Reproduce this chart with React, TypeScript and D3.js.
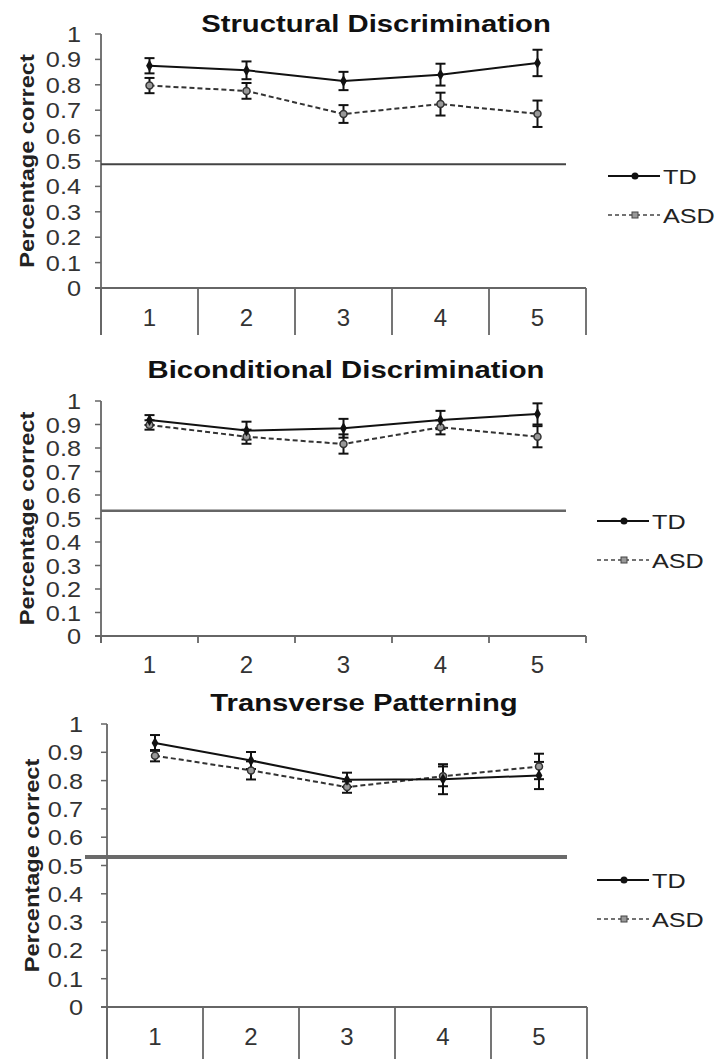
import React from "react";
import * as d3 from "d3";

const sessions = ["1", "2", "3", "4", "5"];
const yTicks = [0, 0.1, 0.2, 0.3, 0.4, 0.5, 0.6, 0.7, 0.8, 0.9, 1];
const seriesNames = ["TD", "ASD"];

// Structural Discrimination
const structTD = [0.875, 0.857, 0.815, 0.84, 0.886];
const structTDErr = [0.03, 0.035, 0.036, 0.043, 0.052];
const structASD = [0.797, 0.776, 0.685, 0.724, 0.686];
const structASDErr = [0.03, 0.031, 0.035, 0.045, 0.052];
const structChance = 0.487;

// Biconditional Discrimination
const bicondTD = [0.919, 0.874, 0.884, 0.919, 0.945];
const bicondTDErr = [0.021, 0.038, 0.04, 0.039, 0.045];
const bicondASD = [0.898, 0.848, 0.817, 0.888, 0.848];
const bicondASDErr = [0.02, 0.03, 0.041, 0.03, 0.045];
const bicondChance = 0.533;

// Transverse Patterning
const transTD = [0.933, 0.871, 0.803, 0.805, 0.818];
const transTDErr = [0.028, 0.03, 0.025, 0.053, 0.048];
const transASD = [0.888, 0.836, 0.777, 0.815, 0.85];
const transASDErr = [0.02, 0.032, 0.02, 0.035, 0.045];
const transChance = 0.53;

const FONT = "'Liberation Sans', Arial, sans-serif";

function T({ x, y, children, size = 21, anchor = "start", bold = false, rotate = 0, sx = 1.2, fill = "#222" }) {
  return (
    <text
      transform={`translate(${x},${y}) rotate(${rotate}) scale(${sx},1)`}
      fontFamily={FONT}
      fontSize={size}
      fontWeight={bold ? "bold" : "normal"}
      textAnchor={anchor}
      fill={fill}
    >
      {children}
    </text>
  );
}

function Panel({ title, td, tdErr, asd, asdErr, chance, g }) {
  const x = d3.scaleBand().domain(sessions).range([g.left, g.right]).padding(0);
  const y = d3.scaleLinear().domain([0, 1]).range([g.y0, g.y1]);
  const cx = (i) => x(sessions[i]) + x.bandwidth() / 2;
  const line = d3
    .line()
    .x((d, i) => cx(i))
    .y((d) => y(d));
  const boundaries = sessions.map((s) => x(s)).concat([g.right]);

  const errBars = (vals, errs, key) =>
    vals.map((v, i) => (
      <g key={key + i} stroke="#111" strokeWidth={2}>
        <line x1={cx(i)} x2={cx(i)} y1={y(v + errs[i])} y2={y(v - errs[i])} />
        <line x1={cx(i) - 5} x2={cx(i) + 5} y1={y(v + errs[i])} y2={y(v + errs[i])} />
        <line x1={cx(i) - 5} x2={cx(i) + 5} y1={y(v - errs[i])} y2={y(v - errs[i])} />
      </g>
    ));

  return (
    <g>
      <T x={g.titleX} y={g.titleY} size={24} anchor="middle" bold sx={1.22} fill="#111">
        {title}
      </T>
      <T x={g.labelX} y={(g.y0 + g.y1) / 2} size={20} anchor="middle" bold rotate={-90} sx={1.18} fill="#222">
        Percentage correct
      </T>
      {/* y axis */}
      <line x1={g.left} x2={g.left} y1={g.y1} y2={g.axisBottom} stroke="#666" strokeWidth={1.8} />
      {yTicks.map((t) => (
        <g key={t}>
          <line x1={g.left - 6} x2={g.left} y1={y(t)} y2={y(t)} stroke="#666" strokeWidth={1.5} />
          <T x={g.tickRight} y={y(t) + 8} size={22} sx={1.15} anchor="end" fill="#333">
            {String(t)}
          </T>
        </g>
      ))}
      {/* x axis */}
      <line x1={g.left - 6} x2={g.right} y1={g.y0} y2={g.y0} stroke="#666" strokeWidth={1.8} />
      {boundaries.map((b, i) => (
        <line key={i} x1={b} x2={b} y1={g.y0} y2={g.sepBottom} stroke="#666" strokeWidth={1.8} />
      ))}
      {sessions.map((s, i) => (
        <T key={s} x={cx(i)} y={g.xLabelY} anchor="middle" size={24} sx={1.0} fill="#333">
          {s}
        </T>
      ))}
      {/* chance line */}
      <line x1={g.chanceLeft} x2={g.chanceRight} y1={y(chance)} y2={y(chance)} stroke={g.chanceColor} strokeWidth={g.chanceWidth} />
      {/* series */}
      <path d={line(asd)} fill="none" stroke="#333" strokeWidth={2} strokeDasharray="5,3" />
      <path d={line(td)} fill="none" stroke="#111" strokeWidth={2} />
      {errBars(asd, asdErr, "a")}
      {errBars(td, tdErr, "t")}
      {asd.map((v, i) => (
        <circle key={"am" + i} cx={cx(i)} cy={y(v)} r={3.5} fill="#999" stroke="#333" strokeWidth={1.5} />
      ))}
      {td.map((v, i) => (
        <path key={"tm" + i} d={d3.symbol(d3.symbolDiamond, 40)()} transform={`translate(${cx(i)},${y(v)})`} fill="#111" />
      ))}
      {/* legend */}
      <g>
        <line x1={g.legendX} x2={g.legendX + 52} y1={g.legendY} y2={g.legendY} stroke="#111" strokeWidth={2} />
        <circle cx={g.legendX + 27} cy={g.legendY} r={3.5} fill="#111" />
        <T x={g.legendX + 55} y={g.legendY + 8} size={21} fill="#222">
          {seriesNames[0]}
        </T>
        <line x1={g.legendX} x2={g.legendX + 52} y1={g.legendY + 39} y2={g.legendY + 39} stroke="#444" strokeWidth={1.5} strokeDasharray="4,3" />
        <rect x={g.legendX + 24} y={g.legendY + 36} width={6} height={6} fill="#999" stroke="#444" strokeWidth={1} />
        <T x={g.legendX + 55} y={g.legendY + 47} size={21} fill="#222">
          {seriesNames[1]}
        </T>
      </g>
    </g>
  );
}

const layouts = [
  {
    left: 101, right: 586, y1: 34, y0: 288, axisBottom: 335, sepBottom: 335, xLabelY: 326,
    titleX: 376, titleY: 32, labelX: 34, tickRight: 81,
    chanceLeft: 101, chanceRight: 566, chanceColor: "#444", chanceWidth: 2,
    legendX: 608, legendY: 176,
  },
  {
    left: 101, right: 586, y1: 401, y0: 636, axisBottom: 643, sepBottom: 643, xLabelY: 673,
    titleX: 346, titleY: 378, labelX: 34, tickRight: 81,
    chanceLeft: 101, chanceRight: 566, chanceColor: "#666", chanceWidth: 2.5,
    legendX: 597, legendY: 521,
  },
  {
    left: 107, right: 587, y1: 724, y0: 1007, axisBottom: 1059, sepBottom: 1059, xLabelY: 1045,
    titleX: 364, titleY: 711, labelX: 39, tickRight: 83,
    chanceLeft: 85, chanceRight: 567, chanceColor: "#6a6a6a", chanceWidth: 4,
    legendX: 597, legendY: 880,
  },
];

export default function App() {
  return (
    <svg
      width={718}
      height={1059}
      style={{ position: "absolute", left: 0, top: 0, background: "#fff" }}
    >
      <Panel title="Structural Discrimination" td={structTD} tdErr={structTDErr} asd={structASD} asdErr={structASDErr} chance={structChance} g={layouts[0]} />
      <Panel title="Biconditional Discrimination" td={bicondTD} tdErr={bicondTDErr} asd={bicondASD} asdErr={bicondASDErr} chance={bicondChance} g={layouts[1]} />
      <Panel title="Transverse Patterning" td={transTD} tdErr={transTDErr} asd={transASD} asdErr={transASDErr} chance={transChance} g={layouts[2]} />
    </svg>
  );
}
